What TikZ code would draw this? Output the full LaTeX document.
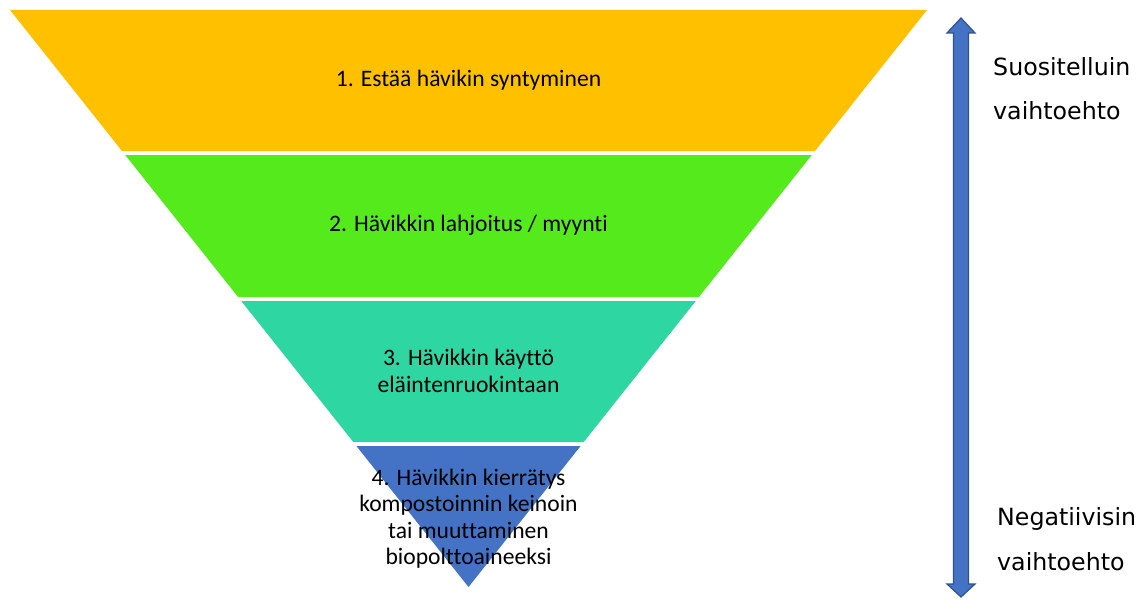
\documentclass[tikz,border=0pt]{standalone}
\usepackage{fontspec}
\setmainfont{Carlito}[Ligatures={NoCommon}]
\newfontfamily\sidefont{DejaVu Sans}
\definecolor{bandA}{HTML}{FFC000}
\definecolor{bandB}{HTML}{55EA1B}
\definecolor{bandC}{HTML}{2ED6A2}
\definecolor{bandD}{HTML}{4472C4}
\definecolor{arrowline}{HTML}{2F528F}
\tikzset{
  band/.style={draw=none},
  bandtext/.style={font=\fontsize{23.6}{26.5}\selectfont, align=center, text=black, inner sep=0pt},
  sidetext/.style={font=\sidefont\fontsize{23.7}{28}\selectfont, text=black, inner sep=0pt, anchor=base west},
  blockarrow/.style={fill=bandD, draw=arrowline, line width=1.2pt, line join=miter}
}
\begin{document}
\begin{tikzpicture}[x=1pt, y=-1pt]
\useasboundingbox (0,0) rectangle (1147,599);

% four bands of the inverted pyramid
\fill[band, bandA] (10,10) -- (927,10) -- (815.0,151) -- (122.0,151) -- cycle;
\fill[band, bandB] (125.2,155) -- (811.8,155) -- (698.9,297) -- (238.1,297) -- cycle;
\fill[band, bandC] (241.2,301) -- (695.8,301) -- (583.7,442) -- (353.3,442) -- cycle;
\fill[band, bandD] (356.4,446) -- (580.6,446) -- (468.5,587) -- cycle;

% band labels
\node[bandtext, anchor=base] (t1) at (468.5,86.7) {1. Estää hävikin syntyminen};
\node[bandtext, anchor=base] (t2) at (468.5,231.7) {2. Hävikkin lahjoitus / myynti};
\node[bandtext, anchor=base] (t3a) at (468.5,365) {3. Hävikkin käyttö};
\node[bandtext, anchor=base] (t3b) at (468.5,392) {eläintenruokintaan};
\node[bandtext, anchor=base] (t4a) at (468.5,485) {4. Hävikkin kierrätys};
\node[bandtext, anchor=base] (t4b) at (468.5,511.5) {kompostoinnin keinoin};
\node[bandtext, anchor=base] (t4c) at (468.5,538) {tai muuttaminen};
\node[bandtext, anchor=base] (t4d) at (468.5,564) {biopolttoaineeksi};

% double-headed block arrow on the right
\draw[blockarrow] (961,18) -- (975,33) -- (968.5,33) -- (968.5,584) -- (975,584)
  -- (961,597) -- (947,584) -- (953.5,584) -- (953.5,33) -- (947,33) -- cycle;

% scale captions
\node[sidetext] (s1) at (993,76) {Suositelluin};
\node[sidetext] (s2) at (993,120) {vaihtoehto};
\node[sidetext] (s3) at (997,525) {Negatiivisin};
\node[sidetext] (s4) at (997,570) {vaihtoehto};
\end{tikzpicture}
\end{document}
